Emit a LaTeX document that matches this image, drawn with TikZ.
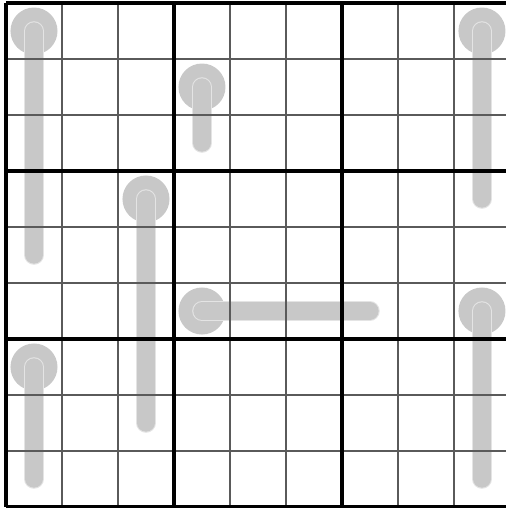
\documentclass[tikz,border=0pt]{standalone}
\usepackage{tikz}
\usepackage{xcolor}
\definecolor{thermogray}{RGB}{200,200,200}
\definecolor{thermoedge}{RGB}{228,228,228}
\definecolor{gridgray}{RGB}{90,90,90}

\begin{document}
\begin{tikzpicture}[x=1cm, y=-1cm,
    gridline/.style={draw=gridgray, line width=0.65pt},
    boxline/.style={draw=black, line width=1.6pt},
    bulb/.style={fill=thermogray},
    stemedge/.style={draw=thermoedge, line width=0.35cm, line cap=round},
    stem/.style={draw=thermogray, line width=0.31cm, line cap=round},
]
\useasboundingbox (-0.107,-0.054) rectangle (8.929,9.018);

% Thermometers: bulb cell -> tip cell
\foreach \bx/\by/\ex/\ey in {0.5/0.5/0.5/4.5, 3.5/1.5/3.5/2.5, 8.5/0.5/8.5/3.5,
                             2.5/3.5/2.5/7.5, 3.5/5.5/6.5/5.5, 8.5/5.5/8.5/8.5,
                             0.5/6.5/0.5/8.5} {
    \fill[bulb] (\bx,\by) circle (0.42);
    \draw[stemedge] (\bx,\by) -- (\ex,\ey);
    \draw[stem] (\bx,\by) -- (\ex,\ey);
}

% Cell lines
\foreach \i in {1,2,4,5,7,8} {
    \draw[gridline] (\i,0) -- (\i,9);
    \draw[gridline] (0,\i) -- (9,\i);
}

% Box lines
\foreach \i in {0,3,6,9} {
    \draw[boxline] (\i,0) -- (\i,9);
    \draw[boxline] (0,\i) -- (9,\i);
}

\end{tikzpicture}
\end{document}
